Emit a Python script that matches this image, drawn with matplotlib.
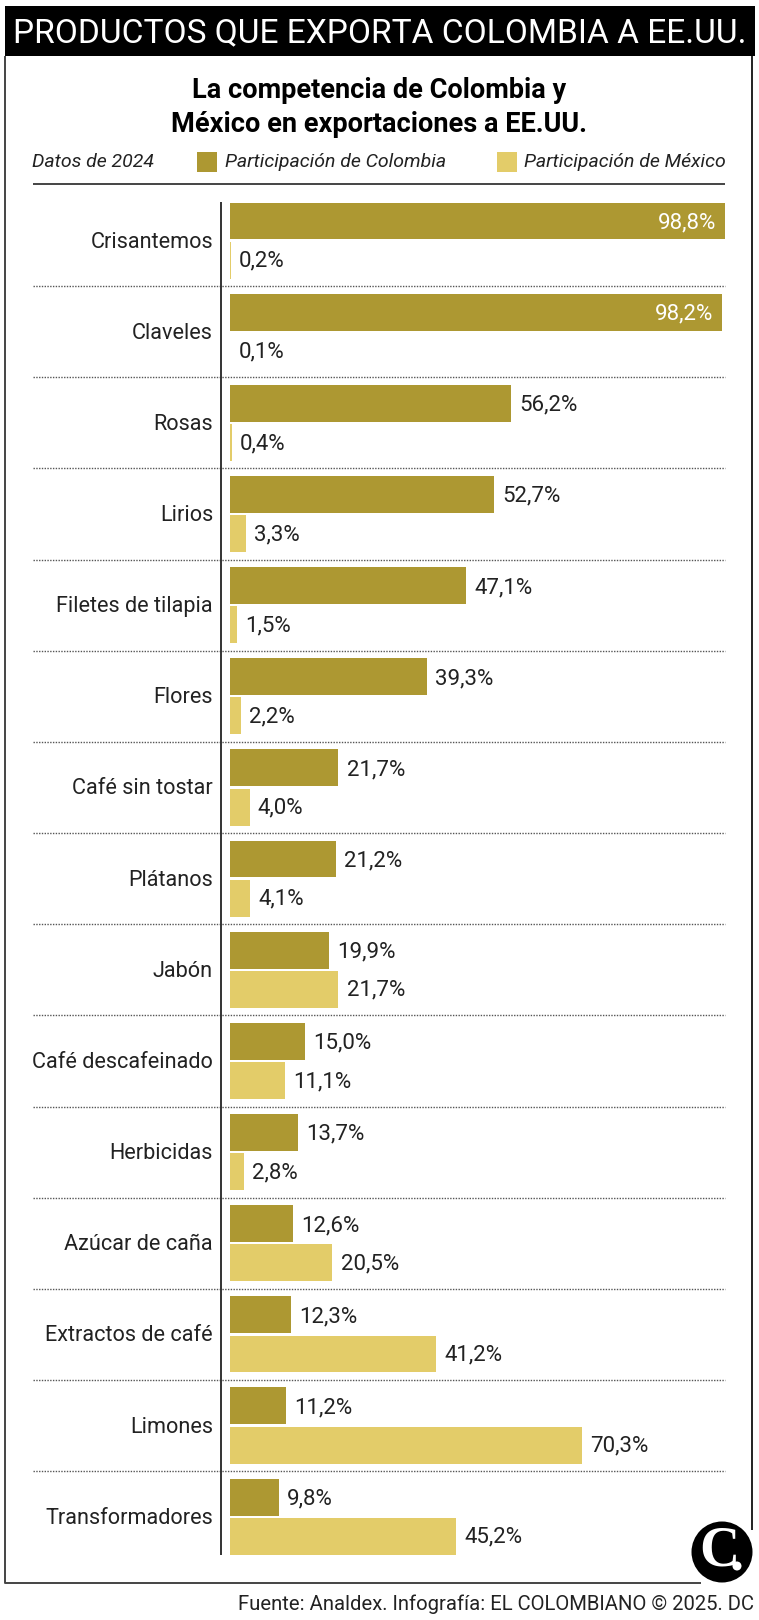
import matplotlib
matplotlib.use("Agg")
import matplotlib.pyplot as plt
from matplotlib.patches import Rectangle, Circle

productos = ["Crisantemos", "Claveles", "Rosas", "Lirios", "Filetes de tilapia", "Flores",
             "Café sin tostar", "Plátanos", "Jabón", "Café descafeinado", "Herbicidas",
             "Azúcar de caña", "Extractos de café", "Limones", "Transformadores"]
colombia = [98.8, 98.2, 56.2, 52.7, 47.1, 39.3, 21.7, 21.2, 19.9, 15.0, 13.7, 12.6, 12.3, 11.2, 9.8]
mexico = [0.2, 0.1, 0.4, 3.3, 1.5, 2.2, 4.0, 4.1, 21.7, 11.1, 2.8, 20.5, 41.2, 70.3, 45.2]

COL_COLOMBIA = "#AD9832"
COL_MEXICO = "#E3CC69"
FONT = ["Roboto", "DejaVu Sans"]

W, H = 759, 1620
fig = plt.figure(figsize=(W / 100, H / 100), dpi=100, facecolor="white")

# overlay in pixel coordinates for the frame, header and legend
bg = fig.add_axes([0, 0, 1, 1])
bg.set_xlim(0, W)
bg.set_ylim(H, 0)
bg.axis("off")

# frame
bg.plot([5, 5, 701], [56, 1583, 1583], color="#444444", lw=1.4, solid_capstyle="butt")
bg.plot([752, 752], [56, 1530], color="#222222", lw=1.4, solid_capstyle="butt")

# header
bg.add_patch(Rectangle((5, 6), 750, 50, color="black", lw=0))
bg.text(380, 33, "PRODUCTOS QUE EXPORTA COLOMBIA A EE.UU.", color="white", fontsize=24.1,
        ha="center", va="center", family=FONT)

# title
bg.text(379, 91, "La competencia de Colombia y", fontsize=19.5, fontweight="bold",
        ha="center", va="center", family=FONT)
bg.text(379, 124, "México en exportaciones a EE.UU.", fontsize=19.5, fontweight="bold",
        ha="center", va="center", family=FONT)

# legend
bg.text(32, 162, "Datos de 2024", fontsize=14, style="italic", va="center", color="#222222", family=FONT)
bg.add_patch(Rectangle((197, 152), 20, 20, color=COL_COLOMBIA, lw=0))
bg.text(225, 162, "Participación de Colombia", fontsize=14, style="italic", va="center",
        color="#222222", family=FONT)
bg.add_patch(Rectangle((497, 152), 20, 20, color=COL_MEXICO, lw=0))
bg.text(524, 162, "Participación de México", fontsize=14, style="italic", va="center",
        color="#222222", family=FONT)
bg.plot([33, 725], [184, 184], color="#444444", lw=1.4, solid_capstyle="butt")

# chart axes, one row is 91.15 px
left_px, right_px = 221, 725
bar_left = 229.5
top_px = 195
row_h = 91.15
n = len(productos)
bottom_px = top_px + n * row_h
ax = fig.add_axes([left_px / W, 1 - bottom_px / H, (right_px - left_px) / W, (bottom_px - top_px) / H])
ax.patch.set_alpha(0)
ax.set_xlim(-(bar_left - left_px) / ((right_px - bar_left) / 98.8), 98.8)
ax.set_ylim(n - 0.5, -0.5)
ax.axis("off")

for i in range(n):
    ax.barh(i - 0.215, colombia[i], height=0.405, color=COL_COLOMBIA, lw=0)
    ax.barh(i + 0.215, mexico[i], height=0.405, color=COL_MEXICO, lw=0)

    if colombia[i] > 90:
        ax.annotate(f"{colombia[i]:.1f}%".replace(".", ","), (colombia[i], i - 0.215), xytext=(-6, -1.4),
                    textcoords="offset points", ha="right", va="center", color="white",
                    fontsize=16, family=FONT)
    else:
        ax.annotate(f"{colombia[i]:.1f}%".replace(".", ","), (colombia[i], i - 0.215), xytext=(6, -1.4),
                    textcoords="offset points", ha="left", va="center", color="#222222",
                    fontsize=16, family=FONT)
    ax.annotate(f"{mexico[i]:.1f}%".replace(".", ","), (mexico[i], i + 0.215), xytext=(6, -0.7),
                textcoords="offset points", ha="left", va="center", color="#222222",
                fontsize=16, family=FONT)

    ypx = top_px + row_h * (i + 0.5) + 1.5
    bg.text(213, ypx, productos[i], ha="right", va="center", fontsize=15.6, color="#222222", family=FONT)
    if i < n - 1:
        bg.plot([33, 725], [top_px + row_h * (i + 1)] * 2, color="#555555", lw=1.0, ls=(0, (1, 1)))

# vertical axis line
bg.plot([221, 221], [202, 1555], color="#333333", lw=1.4, solid_capstyle="butt")

# logo
bg.add_patch(Circle((722, 1552), 30.5, color="black", lw=0, zorder=5))
bg.text(719, 1551, "C", color="white", fontsize=40, fontweight="bold", family="Liberation Serif",
        ha="center", va="center", zorder=6)
bg.add_patch(Circle((737, 1566), 4.5, color="white", lw=0, zorder=7))

# footer
bg.text(754, 1604, "Fuente: Analdex. Infografía: EL COLOMBIANO © 2025. DC", ha="right", va="center",
        fontsize=14.6, color="#222222", family=FONT)

fig.savefig("out.png", dpi=100)
